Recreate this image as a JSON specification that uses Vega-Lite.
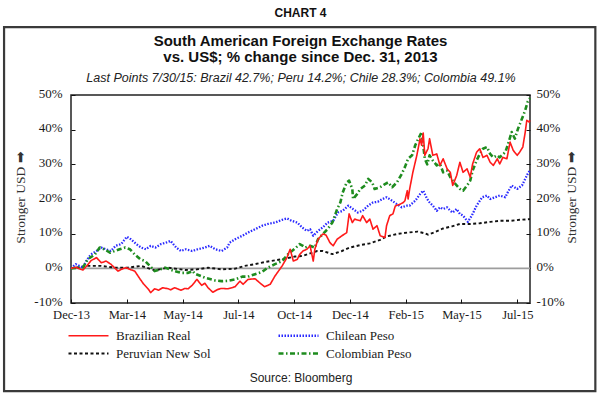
{
  "$schema": "https://vega.github.io/schema/vega-lite/v6.json",
  "width": 459,
  "height": 208,
  "autosize": {"type": "none"},
  "padding": {"left": 71, "top": 95, "right": 70, "bottom": 92},
  "background": "white",
  "title": {
    "text": "CHART 4",
    "subtitle": ["South American Foreign Exchange Rates", "vs. US$; % change since Dec. 31, 2013"],
    "font": "Liberation Sans",
    "fontSize": 12,
    "fontWeight": "bold",
    "color": "#111",
    "subtitleFont": "Liberation Sans",
    "subtitleFontSize": 15,
    "subtitleFontWeight": "bold",
    "subtitleColor": "#111",
    "subtitleLineHeight": 16,
    "subtitlePadding": 14,
    "anchor": "middle",
    "offset": -40
  },
  "config": {
    "view": {"stroke": "#222", "strokeWidth": 1.5},
    "axis": {"grid": false, "domain": false, "tickColor": "#111", "tickSize": -4, "labelFont": "Liberation Serif", "labelFontSize": 13, "labelColor": "#1a1a1a", "titleLimit": 600, "labelOverlap": false, "labelFlush": false}
  },
  "resolve": {"axis": {"x": "independent", "y": "independent"}},
  "layer": [
    {
      "data": {"values": [{}]},
      "mark": {"type": "rect", "filled": false, "stroke": "#3a3a3a", "strokeWidth": 2.2, "clip": false},
      "encoding": {
        "x": {"datum": {"year": 2013, "month": 10, "date": 8, "utc": true}, "type": "temporal", "scale": {"type": "utc", "domain": [{"year": 2013, "month": 12, "date": 31, "utc": true}, {"year": 2015, "month": 7, "date": 30, "utc": true}], "nice": false}, "axis": null},
        "x2": {"datum": {"year": 2015, "month": 10, "date": 20, "utc": true}},
        "y": {"datum": 69.6, "type": "quantitative", "scale": {"domain": [-10, 50], "nice": false, "zero": false}, "axis": null},
        "y2": {"datum": -35.4}
      }
    },
    {
      "data": {"values": [{}]},
      "mark": {"type": "rule", "color": "#9d9d9d", "strokeWidth": 1.6},
      "encoding": {
        "x": {"datum": {"year": 2013, "month": 12, "date": 31, "utc": true}, "type": "temporal", "scale": {"type": "utc", "domain": [{"year": 2013, "month": 12, "date": 31, "utc": true}, {"year": 2015, "month": 7, "date": 30, "utc": true}], "nice": false},
          "axis": {"orient": "top", "title": "Last Points 7/30/15: Brazil 42.7%; Peru 14.2%; Chile 28.3%; Colombia 49.1%", "labels": false, "ticks": false, "domain": false, "titleFont": "Liberation Sans", "titleFontSize": 12.5, "titleFontStyle": "italic", "titleFontWeight": "normal", "titleColor": "#222", "titleY": -18, "titleBaseline": "middle"}},
        "x2": {"datum": {"year": 2015, "month": 7, "date": 30, "utc": true}},
        "y": {"datum": 0, "type": "quantitative", "scale": {"domain": [-10, 50], "nice": false, "zero": false},
          "axis": {"orient": "right", "values": [-10, 0, 10, 20, 30, 40, 50], "labelExpr": "datum.value + '%'", "labelPadding": 10, "labelOffset": -2, "labelAlign": "left", "title": "Stronger USD ➡", "titleFont": "Liberation Serif", "titleFontSize": 13.5, "titleFontWeight": "normal", "titleColor": "#333", "titleAngle": 270, "titleBaseline": "middle", "titleX": 41, "titleY": 102}}
      }
    },
    {
      "data": {"values": [
        {"date": "2013-12-31", "currency": "Peruvian New Sol", "pct": 0},
        {"date": "2014-01-21", "currency": "Peruvian New Sol", "pct": 0.7},
        {"date": "2014-02-07", "currency": "Peruvian New Sol", "pct": 0.7},
        {"date": "2014-02-24", "currency": "Peruvian New Sol", "pct": 0.2},
        {"date": "2014-03-12", "currency": "Peruvian New Sol", "pct": 0.2},
        {"date": "2014-03-29", "currency": "Peruvian New Sol", "pct": 0.7},
        {"date": "2014-04-15", "currency": "Peruvian New Sol", "pct": -0.6},
        {"date": "2014-05-02", "currency": "Peruvian New Sol", "pct": 0.2},
        {"date": "2014-05-18", "currency": "Peruvian New Sol", "pct": -0.3},
        {"date": "2014-05-23", "currency": "Peruvian New Sol", "pct": -0.5},
        {"date": "2014-06-07", "currency": "Peruvian New Sol", "pct": -0.3},
        {"date": "2014-06-21", "currency": "Peruvian New Sol", "pct": 0.2},
        {"date": "2014-07-08", "currency": "Peruvian New Sol", "pct": -0.3},
        {"date": "2014-07-25", "currency": "Peruvian New Sol", "pct": -0.1},
        {"date": "2014-08-06", "currency": "Peruvian New Sol", "pct": 0.7},
        {"date": "2014-08-19", "currency": "Peruvian New Sol", "pct": 1.2},
        {"date": "2014-08-31", "currency": "Peruvian New Sol", "pct": 1.8},
        {"date": "2014-09-13", "currency": "Peruvian New Sol", "pct": 2.3},
        {"date": "2014-09-25", "currency": "Peruvian New Sol", "pct": 2.8},
        {"date": "2014-10-08", "currency": "Peruvian New Sol", "pct": 3.4},
        {"date": "2014-10-18", "currency": "Peruvian New Sol", "pct": 3.6},
        {"date": "2014-10-27", "currency": "Peruvian New Sol", "pct": 4.3},
        {"date": "2014-11-05", "currency": "Peruvian New Sol", "pct": 5.0},
        {"date": "2014-11-12", "currency": "Peruvian New Sol", "pct": 5.0},
        {"date": "2014-11-24", "currency": "Peruvian New Sol", "pct": 4.1},
        {"date": "2014-12-06", "currency": "Peruvian New Sol", "pct": 5.0},
        {"date": "2014-12-16", "currency": "Peruvian New Sol", "pct": 6.0},
        {"date": "2014-12-29", "currency": "Peruvian New Sol", "pct": 6.7},
        {"date": "2015-01-10", "currency": "Peruvian New Sol", "pct": 7.2},
        {"date": "2015-01-23", "currency": "Peruvian New Sol", "pct": 8.2},
        {"date": "2015-01-31", "currency": "Peruvian New Sol", "pct": 9.2},
        {"date": "2015-02-13", "currency": "Peruvian New Sol", "pct": 9.9},
        {"date": "2015-02-26", "currency": "Peruvian New Sol", "pct": 10.3},
        {"date": "2015-03-11", "currency": "Peruvian New Sol", "pct": 10.6},
        {"date": "2015-03-20", "currency": "Peruvian New Sol", "pct": 10.1},
        {"date": "2015-03-24", "currency": "Peruvian New Sol", "pct": 9.7},
        {"date": "2015-04-02", "currency": "Peruvian New Sol", "pct": 10.5},
        {"date": "2015-04-12", "currency": "Peruvian New Sol", "pct": 11.5},
        {"date": "2015-04-23", "currency": "Peruvian New Sol", "pct": 12.1},
        {"date": "2015-05-03", "currency": "Peruvian New Sol", "pct": 12.8},
        {"date": "2015-05-16", "currency": "Peruvian New Sol", "pct": 12.8},
        {"date": "2015-05-28", "currency": "Peruvian New Sol", "pct": 13.0},
        {"date": "2015-06-10", "currency": "Peruvian New Sol", "pct": 13.4},
        {"date": "2015-06-22", "currency": "Peruvian New Sol", "pct": 13.7},
        {"date": "2015-07-05", "currency": "Peruvian New Sol", "pct": 13.7},
        {"date": "2015-07-17", "currency": "Peruvian New Sol", "pct": 14.0},
        {"date": "2015-07-30", "currency": "Peruvian New Sol", "pct": 14.2},

        {"date": "2013-12-31", "currency": "Chilean Peso", "pct": 0},
        {"date": "2014-01-06", "currency": "Chilean Peso", "pct": 1.2},
        {"date": "2014-01-15", "currency": "Chilean Peso", "pct": 0.2},
        {"date": "2014-01-19", "currency": "Chilean Peso", "pct": 2.1},
        {"date": "2014-01-25", "currency": "Chilean Peso", "pct": 4.0},
        {"date": "2014-02-01", "currency": "Chilean Peso", "pct": 5.0},
        {"date": "2014-02-07", "currency": "Chilean Peso", "pct": 6.0},
        {"date": "2014-02-13", "currency": "Chilean Peso", "pct": 5.5},
        {"date": "2014-02-19", "currency": "Chilean Peso", "pct": 5.0},
        {"date": "2014-02-25", "currency": "Chilean Peso", "pct": 6.5},
        {"date": "2014-03-04", "currency": "Chilean Peso", "pct": 7.0},
        {"date": "2014-03-11", "currency": "Chilean Peso", "pct": 9.1},
        {"date": "2014-03-16", "currency": "Chilean Peso", "pct": 8.4},
        {"date": "2014-03-23", "currency": "Chilean Peso", "pct": 7.0},
        {"date": "2014-03-29", "currency": "Chilean Peso", "pct": 6.0},
        {"date": "2014-04-04", "currency": "Chilean Peso", "pct": 5.5},
        {"date": "2014-04-10", "currency": "Chilean Peso", "pct": 6.5},
        {"date": "2014-04-16", "currency": "Chilean Peso", "pct": 6.0},
        {"date": "2014-04-23", "currency": "Chilean Peso", "pct": 7.0},
        {"date": "2014-04-29", "currency": "Chilean Peso", "pct": 7.4},
        {"date": "2014-05-05", "currency": "Chilean Peso", "pct": 7.9},
        {"date": "2014-05-12", "currency": "Chilean Peso", "pct": 6.0},
        {"date": "2014-05-18", "currency": "Chilean Peso", "pct": 5.0},
        {"date": "2014-05-24", "currency": "Chilean Peso", "pct": 5.5},
        {"date": "2014-06-01", "currency": "Chilean Peso", "pct": 5.0},
        {"date": "2014-06-08", "currency": "Chilean Peso", "pct": 5.5},
        {"date": "2014-06-17", "currency": "Chilean Peso", "pct": 6.0},
        {"date": "2014-06-23", "currency": "Chilean Peso", "pct": 6.5},
        {"date": "2014-06-30", "currency": "Chilean Peso", "pct": 5.5},
        {"date": "2014-07-08", "currency": "Chilean Peso", "pct": 5.0},
        {"date": "2014-07-15", "currency": "Chilean Peso", "pct": 6.0},
        {"date": "2014-07-18", "currency": "Chilean Peso", "pct": 7.4},
        {"date": "2014-07-25", "currency": "Chilean Peso", "pct": 8.4},
        {"date": "2014-08-03", "currency": "Chilean Peso", "pct": 9.4},
        {"date": "2014-08-10", "currency": "Chilean Peso", "pct": 10.3},
        {"date": "2014-08-19", "currency": "Chilean Peso", "pct": 11.3},
        {"date": "2014-08-28", "currency": "Chilean Peso", "pct": 12.3},
        {"date": "2014-09-04", "currency": "Chilean Peso", "pct": 12.8},
        {"date": "2014-09-13", "currency": "Chilean Peso", "pct": 13.2},
        {"date": "2014-09-22", "currency": "Chilean Peso", "pct": 14.0},
        {"date": "2014-09-28", "currency": "Chilean Peso", "pct": 14.4},
        {"date": "2014-10-04", "currency": "Chilean Peso", "pct": 13.7},
        {"date": "2014-10-11", "currency": "Chilean Peso", "pct": 13.2},
        {"date": "2014-10-17", "currency": "Chilean Peso", "pct": 11.8},
        {"date": "2014-10-23", "currency": "Chilean Peso", "pct": 10.8},
        {"date": "2014-10-27", "currency": "Chilean Peso", "pct": 11.3},
        {"date": "2014-10-31", "currency": "Chilean Peso", "pct": 9.4},
        {"date": "2014-11-06", "currency": "Chilean Peso", "pct": 10.8},
        {"date": "2014-11-12", "currency": "Chilean Peso", "pct": 11.8},
        {"date": "2014-11-18", "currency": "Chilean Peso", "pct": 13.2},
        {"date": "2014-11-25", "currency": "Chilean Peso", "pct": 13.7},
        {"date": "2014-12-01", "currency": "Chilean Peso", "pct": 16.1},
        {"date": "2014-12-07", "currency": "Chilean Peso", "pct": 16.6},
        {"date": "2014-12-14", "currency": "Chilean Peso", "pct": 18.1},
        {"date": "2014-12-20", "currency": "Chilean Peso", "pct": 17.1},
        {"date": "2014-12-26", "currency": "Chilean Peso", "pct": 16.1},
        {"date": "2015-01-01", "currency": "Chilean Peso", "pct": 16.6},
        {"date": "2015-01-08", "currency": "Chilean Peso", "pct": 18.1},
        {"date": "2015-01-14", "currency": "Chilean Peso", "pct": 19.0},
        {"date": "2015-01-20", "currency": "Chilean Peso", "pct": 19.2},
        {"date": "2015-01-26", "currency": "Chilean Peso", "pct": 20.0},
        {"date": "2015-01-31", "currency": "Chilean Peso", "pct": 20.5},
        {"date": "2015-02-07", "currency": "Chilean Peso", "pct": 19.5},
        {"date": "2015-02-13", "currency": "Chilean Peso", "pct": 18.5},
        {"date": "2015-02-19", "currency": "Chilean Peso", "pct": 17.6},
        {"date": "2015-02-26", "currency": "Chilean Peso", "pct": 18.1},
        {"date": "2015-03-01", "currency": "Chilean Peso", "pct": 18.1},
        {"date": "2015-03-08", "currency": "Chilean Peso", "pct": 19.5},
        {"date": "2015-03-14", "currency": "Chilean Peso", "pct": 21.4},
        {"date": "2015-03-18", "currency": "Chilean Peso", "pct": 22.4},
        {"date": "2015-03-23", "currency": "Chilean Peso", "pct": 20.0},
        {"date": "2015-03-26", "currency": "Chilean Peso", "pct": 19.0},
        {"date": "2015-03-30", "currency": "Chilean Peso", "pct": 18.1},
        {"date": "2015-04-04", "currency": "Chilean Peso", "pct": 16.6},
        {"date": "2015-04-08", "currency": "Chilean Peso", "pct": 17.6},
        {"date": "2015-04-12", "currency": "Chilean Peso", "pct": 17.1},
        {"date": "2015-04-17", "currency": "Chilean Peso", "pct": 17.6},
        {"date": "2015-04-21", "currency": "Chilean Peso", "pct": 16.6},
        {"date": "2015-04-24", "currency": "Chilean Peso", "pct": 16.1},
        {"date": "2015-04-29", "currency": "Chilean Peso", "pct": 17.1},
        {"date": "2015-05-03", "currency": "Chilean Peso", "pct": 15.7},
        {"date": "2015-05-07", "currency": "Chilean Peso", "pct": 15.2},
        {"date": "2015-05-13", "currency": "Chilean Peso", "pct": 13.4},
        {"date": "2015-05-18", "currency": "Chilean Peso", "pct": 15.2},
        {"date": "2015-05-24", "currency": "Chilean Peso", "pct": 18.1},
        {"date": "2015-05-31", "currency": "Chilean Peso", "pct": 20.5},
        {"date": "2015-06-06", "currency": "Chilean Peso", "pct": 21.0},
        {"date": "2015-06-10", "currency": "Chilean Peso", "pct": 20.0},
        {"date": "2015-06-16", "currency": "Chilean Peso", "pct": 20.5},
        {"date": "2015-06-22", "currency": "Chilean Peso", "pct": 21.0},
        {"date": "2015-06-29", "currency": "Chilean Peso", "pct": 20.5},
        {"date": "2015-07-02", "currency": "Chilean Peso", "pct": 21.9},
        {"date": "2015-07-07", "currency": "Chilean Peso", "pct": 23.9},
        {"date": "2015-07-14", "currency": "Chilean Peso", "pct": 22.9},
        {"date": "2015-07-20", "currency": "Chilean Peso", "pct": 23.9},
        {"date": "2015-07-24", "currency": "Chilean Peso", "pct": 25.8},
        {"date": "2015-07-27", "currency": "Chilean Peso", "pct": 27.2},
        {"date": "2015-07-30", "currency": "Chilean Peso", "pct": 28.3},

        {"date": "2013-12-31", "currency": "Colombian Peso", "pct": 0},
        {"date": "2014-01-15", "currency": "Colombian Peso", "pct": 0.2},
        {"date": "2014-01-21", "currency": "Colombian Peso", "pct": 2.6},
        {"date": "2014-01-30", "currency": "Colombian Peso", "pct": 4.0},
        {"date": "2014-02-05", "currency": "Colombian Peso", "pct": 6.0},
        {"date": "2014-02-11", "currency": "Colombian Peso", "pct": 5.5},
        {"date": "2014-02-18", "currency": "Colombian Peso", "pct": 4.5},
        {"date": "2014-02-24", "currency": "Colombian Peso", "pct": 5.0},
        {"date": "2014-03-02", "currency": "Colombian Peso", "pct": 5.5},
        {"date": "2014-03-09", "currency": "Colombian Peso", "pct": 6.0},
        {"date": "2014-03-15", "currency": "Colombian Peso", "pct": 5.5},
        {"date": "2014-03-21", "currency": "Colombian Peso", "pct": 4.0},
        {"date": "2014-03-28", "currency": "Colombian Peso", "pct": 2.6},
        {"date": "2014-04-03", "currency": "Colombian Peso", "pct": 2.1},
        {"date": "2014-04-09", "currency": "Colombian Peso", "pct": 0.7},
        {"date": "2014-04-15", "currency": "Colombian Peso", "pct": -0.8},
        {"date": "2014-04-22", "currency": "Colombian Peso", "pct": -0.3},
        {"date": "2014-04-28", "currency": "Colombian Peso", "pct": 0.2},
        {"date": "2014-05-04", "currency": "Colombian Peso", "pct": -0.3},
        {"date": "2014-05-10", "currency": "Colombian Peso", "pct": -0.8},
        {"date": "2014-05-18", "currency": "Colombian Peso", "pct": -1.3},
        {"date": "2014-05-27", "currency": "Colombian Peso", "pct": -1.3},
        {"date": "2014-06-02", "currency": "Colombian Peso", "pct": -0.8},
        {"date": "2014-06-04", "currency": "Colombian Peso", "pct": -1.5},
        {"date": "2014-06-17", "currency": "Colombian Peso", "pct": -2.7},
        {"date": "2014-06-30", "currency": "Colombian Peso", "pct": -3.5},
        {"date": "2014-07-08", "currency": "Colombian Peso", "pct": -3.7},
        {"date": "2014-07-16", "currency": "Colombian Peso", "pct": -3.6},
        {"date": "2014-07-25", "currency": "Colombian Peso", "pct": -3.2},
        {"date": "2014-08-03", "currency": "Colombian Peso", "pct": -2.4},
        {"date": "2014-08-10", "currency": "Colombian Peso", "pct": -2.4},
        {"date": "2014-08-19", "currency": "Colombian Peso", "pct": -1.7},
        {"date": "2014-08-28", "currency": "Colombian Peso", "pct": -1.0},
        {"date": "2014-09-04", "currency": "Colombian Peso", "pct": 0.2},
        {"date": "2014-09-13", "currency": "Colombian Peso", "pct": 1.2},
        {"date": "2014-09-22", "currency": "Colombian Peso", "pct": 2.1},
        {"date": "2014-09-29", "currency": "Colombian Peso", "pct": 4.0},
        {"date": "2014-10-08", "currency": "Colombian Peso", "pct": 5.7},
        {"date": "2014-10-14", "currency": "Colombian Peso", "pct": 7.0},
        {"date": "2014-10-18", "currency": "Colombian Peso", "pct": 6.5},
        {"date": "2014-10-21", "currency": "Colombian Peso", "pct": 6.0},
        {"date": "2014-10-27", "currency": "Colombian Peso", "pct": 6.5},
        {"date": "2014-11-02", "currency": "Colombian Peso", "pct": 6.0},
        {"date": "2014-11-06", "currency": "Colombian Peso", "pct": 8.4},
        {"date": "2014-11-12", "currency": "Colombian Peso", "pct": 9.9},
        {"date": "2014-11-18", "currency": "Colombian Peso", "pct": 11.3},
        {"date": "2014-11-24", "currency": "Colombian Peso", "pct": 13.2},
        {"date": "2014-11-30", "currency": "Colombian Peso", "pct": 17.1},
        {"date": "2014-12-04", "currency": "Colombian Peso", "pct": 19.0},
        {"date": "2014-12-07", "currency": "Colombian Peso", "pct": 21.9},
        {"date": "2014-12-12", "currency": "Colombian Peso", "pct": 24.8},
        {"date": "2014-12-15", "currency": "Colombian Peso", "pct": 25.3},
        {"date": "2014-12-19", "currency": "Colombian Peso", "pct": 22.9},
        {"date": "2014-12-20", "currency": "Colombian Peso", "pct": 20.0},
        {"date": "2014-12-25", "currency": "Colombian Peso", "pct": 21.4},
        {"date": "2014-12-29", "currency": "Colombian Peso", "pct": 22.9},
        {"date": "2015-01-04", "currency": "Colombian Peso", "pct": 23.9},
        {"date": "2015-01-08", "currency": "Colombian Peso", "pct": 25.8},
        {"date": "2015-01-13", "currency": "Colombian Peso", "pct": 24.8},
        {"date": "2015-01-16", "currency": "Colombian Peso", "pct": 22.9},
        {"date": "2015-01-23", "currency": "Colombian Peso", "pct": 23.4},
        {"date": "2015-01-29", "currency": "Colombian Peso", "pct": 24.3},
        {"date": "2015-02-02", "currency": "Colombian Peso", "pct": 24.8},
        {"date": "2015-02-07", "currency": "Colombian Peso", "pct": 23.4},
        {"date": "2015-02-13", "currency": "Colombian Peso", "pct": 24.8},
        {"date": "2015-02-19", "currency": "Colombian Peso", "pct": 27.2},
        {"date": "2015-02-23", "currency": "Colombian Peso", "pct": 29.2},
        {"date": "2015-02-27", "currency": "Colombian Peso", "pct": 31.6},
        {"date": "2015-03-04", "currency": "Colombian Peso", "pct": 32.6},
        {"date": "2015-03-08", "currency": "Colombian Peso", "pct": 35.5},
        {"date": "2015-03-11", "currency": "Colombian Peso", "pct": 37.0},
        {"date": "2015-03-16", "currency": "Colombian Peso", "pct": 39.3},
        {"date": "2015-03-20", "currency": "Colombian Peso", "pct": 31.6},
        {"date": "2015-03-23", "currency": "Colombian Peso", "pct": 30.0},
        {"date": "2015-03-26", "currency": "Colombian Peso", "pct": 32.6},
        {"date": "2015-03-30", "currency": "Colombian Peso", "pct": 31.1},
        {"date": "2015-04-04", "currency": "Colombian Peso", "pct": 29.7},
        {"date": "2015-04-08", "currency": "Colombian Peso", "pct": 30.1},
        {"date": "2015-04-12", "currency": "Colombian Peso", "pct": 27.7},
        {"date": "2015-04-17", "currency": "Colombian Peso", "pct": 28.2},
        {"date": "2015-04-21", "currency": "Colombian Peso", "pct": 26.3},
        {"date": "2015-04-24", "currency": "Colombian Peso", "pct": 25.3},
        {"date": "2015-04-29", "currency": "Colombian Peso", "pct": 23.9},
        {"date": "2015-05-03", "currency": "Colombian Peso", "pct": 22.9},
        {"date": "2015-05-07", "currency": "Colombian Peso", "pct": 22.4},
        {"date": "2015-05-12", "currency": "Colombian Peso", "pct": 23.9},
        {"date": "2015-05-16", "currency": "Colombian Peso", "pct": 25.3},
        {"date": "2015-05-19", "currency": "Colombian Peso", "pct": 28.2},
        {"date": "2015-05-24", "currency": "Colombian Peso", "pct": 31.1},
        {"date": "2015-05-28", "currency": "Colombian Peso", "pct": 33.0},
        {"date": "2015-06-01", "currency": "Colombian Peso", "pct": 34.5},
        {"date": "2015-06-06", "currency": "Colombian Peso", "pct": 35.0},
        {"date": "2015-06-10", "currency": "Colombian Peso", "pct": 33.0},
        {"date": "2015-06-14", "currency": "Colombian Peso", "pct": 32.0},
        {"date": "2015-06-19", "currency": "Colombian Peso", "pct": 32.6},
        {"date": "2015-06-22", "currency": "Colombian Peso", "pct": 32.0},
        {"date": "2015-06-29", "currency": "Colombian Peso", "pct": 33.5},
        {"date": "2015-07-02", "currency": "Colombian Peso", "pct": 35.5},
        {"date": "2015-07-07", "currency": "Colombian Peso", "pct": 39.3},
        {"date": "2015-07-11", "currency": "Colombian Peso", "pct": 37.4},
        {"date": "2015-07-15", "currency": "Colombian Peso", "pct": 40.3},
        {"date": "2015-07-20", "currency": "Colombian Peso", "pct": 43.2},
        {"date": "2015-07-24", "currency": "Colombian Peso", "pct": 45.6},
        {"date": "2015-07-27", "currency": "Colombian Peso", "pct": 48.0},
        {"date": "2015-07-30", "currency": "Colombian Peso", "pct": 49.1},

        {"date": "2013-12-31", "currency": "Brazilian Real", "pct": 0},
        {"date": "2014-01-06", "currency": "Brazilian Real", "pct": 0.3},
        {"date": "2014-01-15", "currency": "Brazilian Real", "pct": -0.5},
        {"date": "2014-01-21", "currency": "Brazilian Real", "pct": 1.0},
        {"date": "2014-01-25", "currency": "Brazilian Real", "pct": 2.2},
        {"date": "2014-02-01", "currency": "Brazilian Real", "pct": 3.1},
        {"date": "2014-02-07", "currency": "Brazilian Real", "pct": 1.6},
        {"date": "2014-02-13", "currency": "Brazilian Real", "pct": 2.1},
        {"date": "2014-02-19", "currency": "Brazilian Real", "pct": 1.2},
        {"date": "2014-02-28", "currency": "Brazilian Real", "pct": -0.8},
        {"date": "2014-03-04", "currency": "Brazilian Real", "pct": -0.3},
        {"date": "2014-03-10", "currency": "Brazilian Real", "pct": 0.2},
        {"date": "2014-03-16", "currency": "Brazilian Real", "pct": -0.4},
        {"date": "2014-03-21", "currency": "Brazilian Real", "pct": -0.8},
        {"date": "2014-03-28", "currency": "Brazilian Real", "pct": -3.2},
        {"date": "2014-04-01", "currency": "Brazilian Real", "pct": -4.5},
        {"date": "2014-04-07", "currency": "Brazilian Real", "pct": -6.0},
        {"date": "2014-04-10", "currency": "Brazilian Real", "pct": -7.0},
        {"date": "2014-04-15", "currency": "Brazilian Real", "pct": -5.9},
        {"date": "2014-04-20", "currency": "Brazilian Real", "pct": -6.3},
        {"date": "2014-04-25", "currency": "Brazilian Real", "pct": -5.6},
        {"date": "2014-05-02", "currency": "Brazilian Real", "pct": -5.9},
        {"date": "2014-05-05", "currency": "Brazilian Real", "pct": -6.2},
        {"date": "2014-05-10", "currency": "Brazilian Real", "pct": -5.6},
        {"date": "2014-05-18", "currency": "Brazilian Real", "pct": -6.3},
        {"date": "2014-05-23", "currency": "Brazilian Real", "pct": -5.8},
        {"date": "2014-05-27", "currency": "Brazilian Real", "pct": -5.9},
        {"date": "2014-06-01", "currency": "Brazilian Real", "pct": -4.9},
        {"date": "2014-06-07", "currency": "Brazilian Real", "pct": -3.2},
        {"date": "2014-06-13", "currency": "Brazilian Real", "pct": -4.9},
        {"date": "2014-06-17", "currency": "Brazilian Real", "pct": -4.3},
        {"date": "2014-06-21", "currency": "Brazilian Real", "pct": -5.6},
        {"date": "2014-06-27", "currency": "Brazilian Real", "pct": -6.9},
        {"date": "2014-07-03", "currency": "Brazilian Real", "pct": -6.1},
        {"date": "2014-07-08", "currency": "Brazilian Real", "pct": -5.8},
        {"date": "2014-07-16", "currency": "Brazilian Real", "pct": -5.9},
        {"date": "2014-07-25", "currency": "Brazilian Real", "pct": -5.3},
        {"date": "2014-07-31", "currency": "Brazilian Real", "pct": -3.7},
        {"date": "2014-08-04", "currency": "Brazilian Real", "pct": -4.6},
        {"date": "2014-08-10", "currency": "Brazilian Real", "pct": -3.2},
        {"date": "2014-08-19", "currency": "Brazilian Real", "pct": -3.0},
        {"date": "2014-08-25", "currency": "Brazilian Real", "pct": -4.2},
        {"date": "2014-08-31", "currency": "Brazilian Real", "pct": -5.3},
        {"date": "2014-09-07", "currency": "Brazilian Real", "pct": -4.6},
        {"date": "2014-09-13", "currency": "Brazilian Real", "pct": -2.2},
        {"date": "2014-09-22", "currency": "Brazilian Real", "pct": 0.7},
        {"date": "2014-09-28", "currency": "Brazilian Real", "pct": 3.1},
        {"date": "2014-10-02", "currency": "Brazilian Real", "pct": 5.5},
        {"date": "2014-10-06", "currency": "Brazilian Real", "pct": 2.1},
        {"date": "2014-10-11", "currency": "Brazilian Real", "pct": 2.6},
        {"date": "2014-10-14", "currency": "Brazilian Real", "pct": 4.0},
        {"date": "2014-10-18", "currency": "Brazilian Real", "pct": 5.0},
        {"date": "2014-10-23", "currency": "Brazilian Real", "pct": 5.5},
        {"date": "2014-10-27", "currency": "Brazilian Real", "pct": 6.5},
        {"date": "2014-10-31", "currency": "Brazilian Real", "pct": 2.1},
        {"date": "2014-11-02", "currency": "Brazilian Real", "pct": 5.5},
        {"date": "2014-11-06", "currency": "Brazilian Real", "pct": 8.4},
        {"date": "2014-11-12", "currency": "Brazilian Real", "pct": 9.9},
        {"date": "2014-11-16", "currency": "Brazilian Real", "pct": 9.6},
        {"date": "2014-11-21", "currency": "Brazilian Real", "pct": 7.4},
        {"date": "2014-11-25", "currency": "Brazilian Real", "pct": 6.5},
        {"date": "2014-11-30", "currency": "Brazilian Real", "pct": 8.4},
        {"date": "2014-12-06", "currency": "Brazilian Real", "pct": 9.4},
        {"date": "2014-12-12", "currency": "Brazilian Real", "pct": 10.3},
        {"date": "2014-12-15", "currency": "Brazilian Real", "pct": 15.7},
        {"date": "2014-12-19", "currency": "Brazilian Real", "pct": 13.2},
        {"date": "2014-12-22", "currency": "Brazilian Real", "pct": 14.2},
        {"date": "2014-12-29", "currency": "Brazilian Real", "pct": 13.7},
        {"date": "2015-01-01", "currency": "Brazilian Real", "pct": 15.2},
        {"date": "2015-01-06", "currency": "Brazilian Real", "pct": 13.2},
        {"date": "2015-01-10", "currency": "Brazilian Real", "pct": 14.2},
        {"date": "2015-01-14", "currency": "Brazilian Real", "pct": 11.3},
        {"date": "2015-01-19", "currency": "Brazilian Real", "pct": 12.3},
        {"date": "2015-01-23", "currency": "Brazilian Real", "pct": 9.4},
        {"date": "2015-01-29", "currency": "Brazilian Real", "pct": 8.9},
        {"date": "2015-01-31", "currency": "Brazilian Real", "pct": 12.3},
        {"date": "2015-02-04", "currency": "Brazilian Real", "pct": 15.2},
        {"date": "2015-02-08", "currency": "Brazilian Real", "pct": 15.7},
        {"date": "2015-02-11", "currency": "Brazilian Real", "pct": 18.0},
        {"date": "2015-02-17", "currency": "Brazilian Real", "pct": 18.5},
        {"date": "2015-02-21", "currency": "Brazilian Real", "pct": 19.0},
        {"date": "2015-02-23", "currency": "Brazilian Real", "pct": 19.5},
        {"date": "2015-02-26", "currency": "Brazilian Real", "pct": 22.4},
        {"date": "2015-02-27", "currency": "Brazilian Real", "pct": 20.0},
        {"date": "2015-03-01", "currency": "Brazilian Real", "pct": 22.9},
        {"date": "2015-03-05", "currency": "Brazilian Real", "pct": 27.7},
        {"date": "2015-03-10", "currency": "Brazilian Real", "pct": 32.6},
        {"date": "2015-03-14", "currency": "Brazilian Real", "pct": 37.4},
        {"date": "2015-03-16", "currency": "Brazilian Real", "pct": 35.5},
        {"date": "2015-03-18", "currency": "Brazilian Real", "pct": 39.0},
        {"date": "2015-03-20", "currency": "Brazilian Real", "pct": 32.6},
        {"date": "2015-03-24", "currency": "Brazilian Real", "pct": 34.5},
        {"date": "2015-03-26", "currency": "Brazilian Real", "pct": 37.4},
        {"date": "2015-03-30", "currency": "Brazilian Real", "pct": 32.6},
        {"date": "2015-04-04", "currency": "Brazilian Real", "pct": 33.0},
        {"date": "2015-04-08", "currency": "Brazilian Real", "pct": 29.7},
        {"date": "2015-04-12", "currency": "Brazilian Real", "pct": 31.6},
        {"date": "2015-04-17", "currency": "Brazilian Real", "pct": 28.7},
        {"date": "2015-04-21", "currency": "Brazilian Real", "pct": 27.7},
        {"date": "2015-04-24", "currency": "Brazilian Real", "pct": 23.9},
        {"date": "2015-04-29", "currency": "Brazilian Real", "pct": 26.8},
        {"date": "2015-05-03", "currency": "Brazilian Real", "pct": 30.6},
        {"date": "2015-05-07", "currency": "Brazilian Real", "pct": 27.7},
        {"date": "2015-05-12", "currency": "Brazilian Real", "pct": 28.7},
        {"date": "2015-05-16", "currency": "Brazilian Real", "pct": 26.3},
        {"date": "2015-05-19", "currency": "Brazilian Real", "pct": 30.1},
        {"date": "2015-05-24", "currency": "Brazilian Real", "pct": 33.5},
        {"date": "2015-05-28", "currency": "Brazilian Real", "pct": 34.5},
        {"date": "2015-06-01", "currency": "Brazilian Real", "pct": 32.0},
        {"date": "2015-06-06", "currency": "Brazilian Real", "pct": 32.6},
        {"date": "2015-06-10", "currency": "Brazilian Real", "pct": 30.6},
        {"date": "2015-06-14", "currency": "Brazilian Real", "pct": 29.7},
        {"date": "2015-06-19", "currency": "Brazilian Real", "pct": 31.6},
        {"date": "2015-06-22", "currency": "Brazilian Real", "pct": 30.1},
        {"date": "2015-06-26", "currency": "Brazilian Real", "pct": 32.0},
        {"date": "2015-07-01", "currency": "Brazilian Real", "pct": 31.6},
        {"date": "2015-07-05", "currency": "Brazilian Real", "pct": 36.4},
        {"date": "2015-07-09", "currency": "Brazilian Real", "pct": 34.0},
        {"date": "2015-07-14", "currency": "Brazilian Real", "pct": 32.6},
        {"date": "2015-07-17", "currency": "Brazilian Real", "pct": 33.5},
        {"date": "2015-07-21", "currency": "Brazilian Real", "pct": 35.0},
        {"date": "2015-07-24", "currency": "Brazilian Real", "pct": 39.3},
        {"date": "2015-07-26", "currency": "Brazilian Real", "pct": 42.7},
        {"date": "2015-07-29", "currency": "Brazilian Real", "pct": 42.2},
        {"date": "2015-07-30", "currency": "Brazilian Real", "pct": 42.7}
      ]},
      "mark": {"type": "line", "strokeJoin": "round"},
      "encoding": {
        "x": {"field": "date", "type": "temporal",
          "scale": {"type": "utc", "domain": [{"year": 2013, "month": 12, "date": 31, "utc": true}, {"year": 2015, "month": 7, "date": 30, "utc": true}], "nice": false},
          "axis": {"orient": "bottom", "format": "%b-%y", "labelPadding": 9, "labelFontSize": 12.5,
            "values": [{"year": 2013, "month": 12, "date": 31, "utc": true}, {"year": 2014, "month": 3, "date": 11, "utc": true}, {"year": 2014, "month": 5, "date": 20, "utc": true}, {"year": 2014, "month": 7, "date": 29, "utc": true}, {"year": 2014, "month": 10, "date": 7, "utc": true}, {"year": 2014, "month": 12, "date": 16, "utc": true}, {"year": 2015, "month": 2, "date": 24, "utc": true}, {"year": 2015, "month": 5, "date": 5, "utc": true}, {"year": 2015, "month": 7, "date": 14, "utc": true}],
            "title": "Source: Bloomberg", "titleFont": "Liberation Sans", "titleFontSize": 12, "titleFontWeight": "normal", "titleColor": "#222", "titleY": 69, "titleBaseline": "top"}},
        "y": {"field": "pct", "type": "quantitative",
          "scale": {"domain": [-10, 50], "nice": false, "zero": false},
          "axis": {"orient": "left", "values": [-10, 0, 10, 20, 30, 40, 50], "labelExpr": "datum.value + '%'", "labelPadding": 13, "labelOffset": -2, "title": "Stronger USD ➡", "titleFont": "Liberation Serif", "titleFontSize": 13.5, "titleFontWeight": "normal", "titleColor": "#333", "titleAngle": 270, "titleBaseline": "middle", "titleX": -51, "titleY": 102}},
        "color": {"field": "currency", "type": "nominal",
          "scale": {"domain": ["Brazilian Real", "Peruvian New Sol", "Chilean Peso", "Colombian Peso"], "range": ["#ff1a1a", "#111111", "#2a2aff", "#1e8c1e"]},
          "legend": {"orient": "none", "legendX": 11, "legendY": 234, "columns": 2, "title": null, "padding": 0, "symbolType": "M-5,0H5", "symbolSize": 64, "labelOffset": 21, "columnPadding": 62, "rowPadding": 4, "labelFont": "Liberation Serif", "labelFontSize": 13, "labelColor": "#1a1a1a"}},
        "strokeDash": {"field": "currency", "type": "nominal",
          "scale": {"domain": ["Brazilian Real", "Peruvian New Sol", "Chilean Peso", "Colombian Peso"], "range": [[1, 0], [3, 2.5], [1.5, 1.5], [5, 2.5, 1.5, 2.5]]}},
        "strokeWidth": {"field": "currency", "type": "nominal",
          "scale": {"domain": ["Brazilian Real", "Peruvian New Sol", "Chilean Peso", "Colombian Peso"], "range": [1.6, 2.6, 1.8, 2]}}
      }
    }
  ]
}
